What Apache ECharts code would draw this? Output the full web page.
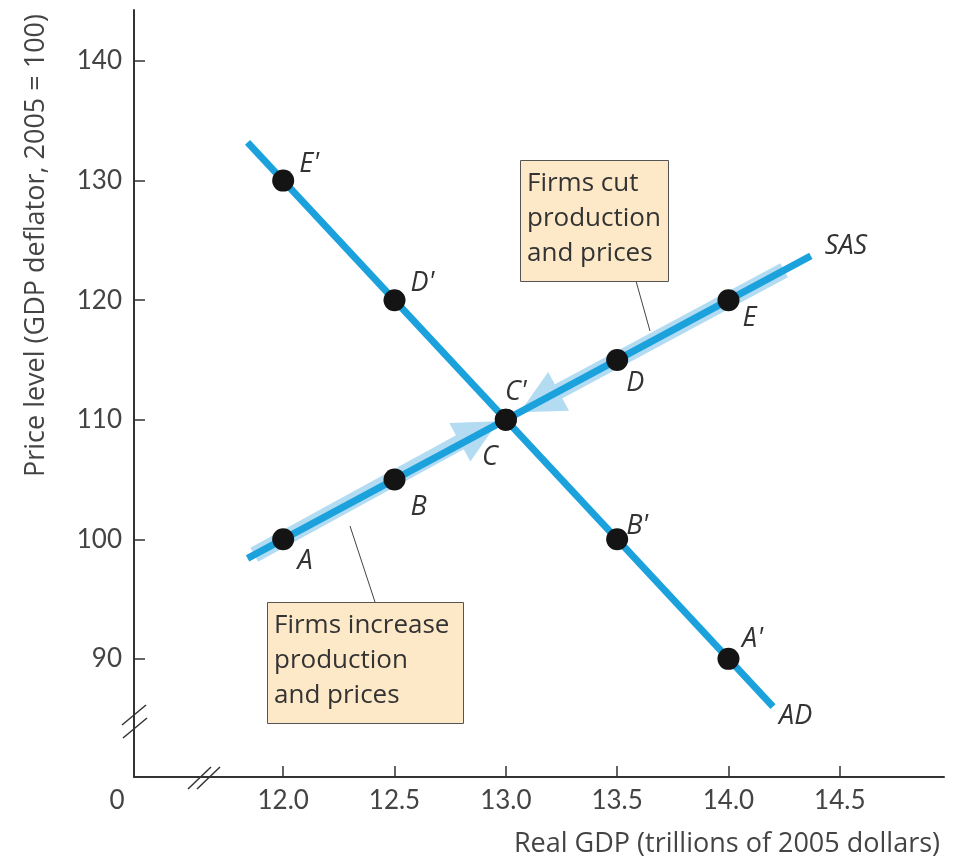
<!DOCTYPE html>
<html>
<head>
<meta charset="utf-8">
<script src="https://cdn.jsdelivr.net/npm/echarts@6/dist/echarts.min.js"></script>
<style>
html,body{margin:0;padding:0;background:#fff;}
#main{width:956px;height:861px;}
</style>
</head>
<body>
<div id="main"></div>
<script>
// ---- data ----
var xTicks = [12.0, 12.5, 13.0, 13.5, 14.0, 14.5];
var yTicks = [90, 100, 110, 120, 130, 140];
var sasX = [12.0, 12.5, 13.0, 13.5, 14.0];
var sasY = [100, 105, 110, 115, 120];
var sasNames = ['A', 'B', 'C', 'D', 'E'];
var adX = [12.0, 12.5, 13.0, 13.5, 14.0];
var adY = [130, 120, 110, 100, 90];
var adNames = ["E'", "D'", "C'", "B'", "A'"];
var sasLine = [[11.84, 98.4], [14.37, 123.7]];
var adLine = [[11.84, 133.2], [14.2, 86.0]];
var bandUp = [[11.87, 98.7], [12.88, 109.0]];
var bandDown = [[14.25, 122.5], [13.15, 111.5]];

var FONT = 'Lato, "Open Sans", sans-serif';
var TFONT = '"Open Sans", Lato, sans-serif';
var BLUE = '#1ba1dc';
var LIGHT = '#b3dcf3';

// label offsets for points
var sasOffsets = [[22, 22], [24, 28], [-16, 38], [18, 23], [21, 18]];
var adOffsets = [[26, -16], [28, -17], [10, -27], [20, -13], [24, -20]];

function pts(xs, ys, names, offs) {
  return xs.map(function (x, i) {
    return {
      value: [x, ys[i]],
      name: names[i],
      label: { offset: offs[i] }
    };
  });
}

var chart = echarts.init(document.getElementById('main'), null, { renderer: 'canvas' });

var ptLabel = {
  show: true, position: 'inside', formatter: '{b}', color: '#333',
  fontSize: 27, fontStyle: 'italic', fontFamily: TFONT
};

var option = {
  animation: false,
  backgroundColor: '#ffffff',
  grid: { left: 134, right: 12, top: 10, bottom: 84, containLabel: false },
  xAxis: {
    type: 'value',
    min: 11.33,
    max: 14.968,
    axisLine: { show: true, lineStyle: { color: '#333', width: 2 } },
    axisTick: { show: true, inside: true, length: 11, customValues: xTicks, lineStyle: { color: '#333', width: 1.5 } },
    axisLabel: {
      customValues: xTicks,
      formatter: function (v) { return v.toFixed(1); },
      color: '#444', fontSize: 26, fontFamily: FONT, margin: 11
    },
    splitLine: { show: false }
  },
  yAxis: {
    type: 'value',
    min: 80.12,
    max: 144.27,
    axisLine: { show: true, lineStyle: { color: '#333', width: 2 } },
    axisTick: { show: true, inside: true, length: 11, customValues: yTicks, lineStyle: { color: '#333', width: 1.5 } },
    axisLabel: {
      customValues: yTicks,
      color: '#444', fontSize: 26, fontFamily: FONT, margin: 12
    },
    splitLine: { show: false }
  },
  series: [
    {
      type: 'lines',
      coordinateSystem: 'cartesian2d',
      z: 1,
      symbol: ['none', 'triangle'],
      symbolSize: [32, 44],
      lineStyle: { color: LIGHT, width: 16, opacity: 1 },
      data: [{ coords: bandUp }, { coords: bandDown }]
    },
    {
      type: 'line',
      z: 2,
      data: sasLine,
      showSymbol: false,
      symbol: 'none',
      lineStyle: { color: BLUE, width: 7, cap: 'butt' },
      endLabel: {
        show: true, formatter: 'SAS', color: '#333', fontSize: 27,
        fontStyle: 'italic', fontFamily: TFONT, offset: [6, -10]
      }
    },
    {
      type: 'line',
      z: 2,
      data: adLine,
      showSymbol: false,
      symbol: 'none',
      lineStyle: { color: BLUE, width: 7, cap: 'butt' },
      endLabel: {
        show: true, formatter: 'AD', color: '#333', fontSize: 27,
        fontStyle: 'italic', fontFamily: TFONT, offset: [-2, 10]
      }
    },
    {
      type: 'scatter',
      z: 3,
      symbolSize: 22,
      itemStyle: { color: '#141414', opacity: 1 },
      label: ptLabel,
      data: pts(sasX, sasY, sasNames, sasOffsets)
    },
    {
      type: 'scatter',
      z: 3,
      symbolSize: 22,
      itemStyle: { color: '#141414', opacity: 1 },
      label: ptLabel,
      data: pts(adX, adY, adNames, adOffsets)
    }
  ],
  graphic: [
    // connector lines
    { type: 'line', z: 10, shape: { x1: 636, y1: 281, x2: 650, y2: 331 }, style: { stroke: '#444', lineWidth: 1 } },
    { type: 'line', z: 10, shape: { x1: 375, y1: 602, x2: 350, y2: 526 }, style: { stroke: '#444', lineWidth: 1 } },
    // box 1
    { type: 'rect', z: 10, shape: { x: 520.5, y: 160.5, width: 148, height: 121 }, style: { fill: '#fde8c8', stroke: '#555', lineWidth: 1 } },
    { type: 'text', z: 11, x: 527, y: 166, style: { text: 'Firms cut\nproduction\nand prices', font: '26px ' + TFONT, fill: '#333', lineHeight: 35 } },
    // box 2
    { type: 'rect', z: 10, shape: { x: 267.5, y: 602.5, width: 196, height: 121 }, style: { fill: '#fde8c8', stroke: '#555', lineWidth: 1 } },
    { type: 'text', z: 11, x: 274, y: 608, style: { text: 'Firms increase\nproduction\nand prices', font: '26px ' + TFONT, fill: '#333', lineHeight: 35 } },
    // axis breaks
    { type: 'line', z: 10, shape: { x1: 122, y1: 725, x2: 146, y2: 705 }, style: { stroke: '#333', lineWidth: 1.5 } },
    { type: 'line', z: 10, shape: { x1: 123, y1: 738, x2: 147, y2: 718 }, style: { stroke: '#333', lineWidth: 1.5 } },
    { type: 'line', z: 10, shape: { x1: 188, y1: 789, x2: 211, y2: 767 }, style: { stroke: '#333', lineWidth: 1.5 } },
    { type: 'line', z: 10, shape: { x1: 197, y1: 789, x2: 220, y2: 767 }, style: { stroke: '#333', lineWidth: 1.5 } },
    // origin label
    { type: 'text', z: 10, x: 117, y: 801, style: { text: '0', font: '26px ' + FONT, fill: '#444', align: 'center', verticalAlign: 'middle' } },
    // axis titles
    { type: 'text', z: 10, x: 940, y: 844, style: { text: 'Real GDP (trillions of 2005 dollars)', font: '27px ' + TFONT, fill: '#444', align: 'right', verticalAlign: 'middle' } },
    { type: 'text', z: 10, x: 36, y: 14, rotation: Math.PI / 2, style: { text: 'Price level (GDP deflator, 2005 = 100)', font: '27px ' + TFONT, fill: '#444', align: 'right', verticalAlign: 'middle' } }
  ]
};

chart.setOption(option);
</script>
</body>
</html>
